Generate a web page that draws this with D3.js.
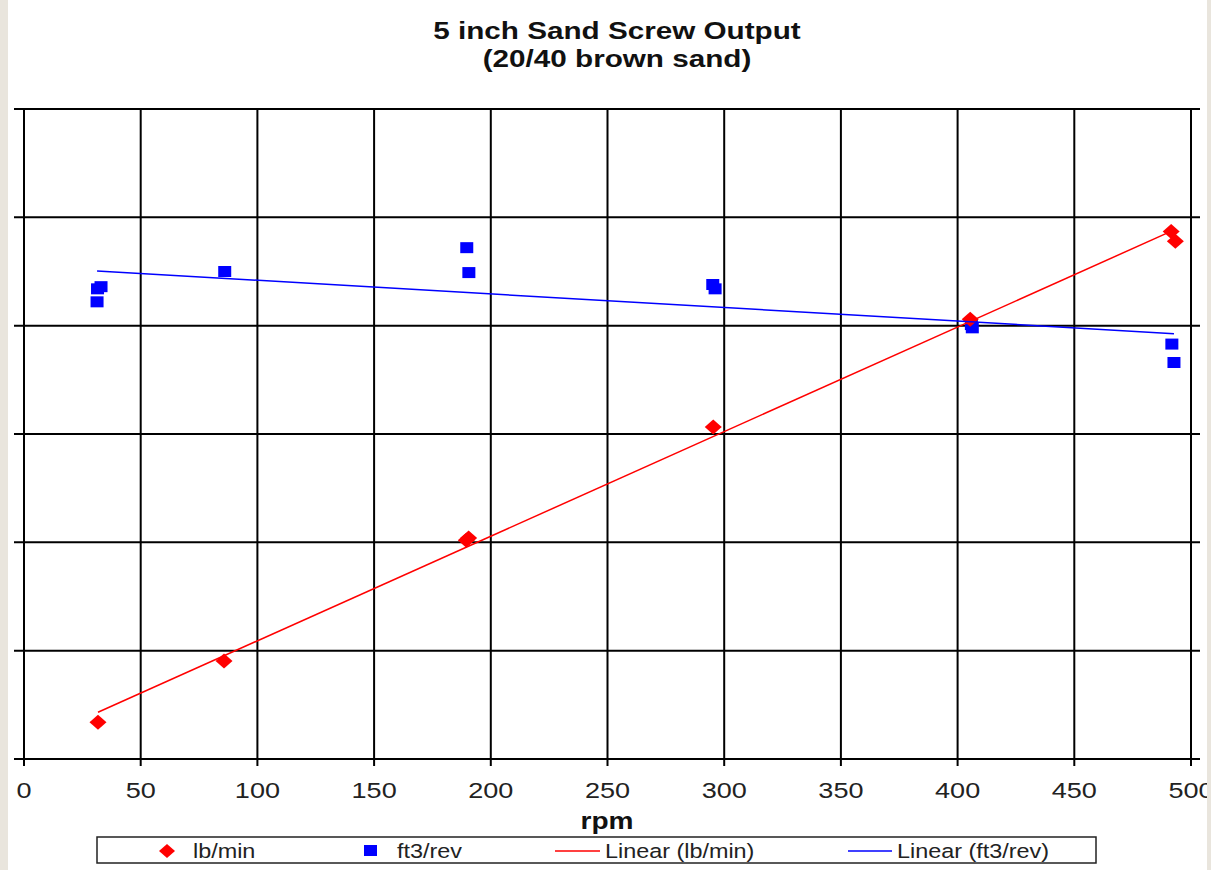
<!DOCTYPE html>
<html><head><meta charset="utf-8">
<script src="https://cdn.jsdelivr.net/npm/d3@7"></script>
<style>
html,body{margin:0;padding:0;background:#e9e5dd;}
svg{display:block;}
</style></head>
<body>
<script>
// Data (y in gridline units; the reference shows no y tick labels)
const lbRpm   = [31.7, 85.7, 189.5, 190.5, 295.3, 405.4, 491.5, 493.3];
const lbVal   = [0.34, 0.905, 2.02, 2.04, 3.065, 4.06, 4.87, 4.78];
const ftRpm   = [31.5, 33.0, 31.3, 86.0, 189.7, 190.6, 295.1, 296.1, 405.9, 406.3, 491.8, 492.7];
const ftVal   = [4.34, 4.36, 4.22, 4.50, 4.72, 4.49, 4.38, 4.34, 4.01, 3.98, 3.83, 3.66];
const xTicks  = [0, 50, 100, 150, 200, 250, 300, 350, 400, 450, 500];
const yTicks  = [0, 1, 2, 3, 4, 5, 6];
const legendLabels = ["lb/min", "ft3/rev", "Linear (lb/min)", "Linear (ft3/rev)"];
const titleLines = ["5 inch Sand Screw Output", "(20/40 brown sand)"];

const W = 1211, H = 870;
const svg = d3.select("body").append("svg").attr("width", W).attr("height", H);
svg.append("rect").attr("x", 8).attr("y", 0).attr("width", 1199).attr("height", H).attr("fill", "#fff");

const x = d3.scaleLinear().domain([0, 500]).range([24, 1191]);
const y = d3.scaleLinear().domain([0, 6]).range([759, 109]);
const font = "'Liberation Sans', Arial, sans-serif";

// horizontally stretched text helper
function txt(g, px, py, s, size, bold, anchor, sx, fill) {
  return g.append("text")
    .attr("transform", `translate(${px},${py}) scale(${sx},1)`)
    .attr("text-anchor", anchor).attr("font-family", font)
    .attr("font-size", size).attr("font-weight", bold ? "bold" : "normal")
    .attr("fill", fill || "#111").text(s);
}

// title
titleLines.forEach((t, i) => txt(svg, 617, 39 + i * 28, t, 23, true, "middle", 1.29, "#111"));

// horizontal grid (with tick stubs both sides)
svg.append("g").selectAll("line").data(yTicks).join("line")
  .attr("x1", 14).attr("x2", 1200).attr("y1", d => y(d)).attr("y2", d => y(d))
  .attr("stroke", "#000").attr("stroke-width", 2);
// vertical grid
svg.append("g").selectAll("line").data(xTicks).join("line")
  .attr("x1", d => x(d)).attr("x2", d => x(d)).attr("y1", y(6)).attr("y2", 766)
  .attr("stroke", "#000").attr("stroke-width", 2);

// x axis labels
const xl = svg.append("g");
xTicks.forEach(t => txt(xl, x(t), 798, String(t), 22, false, "middle", 1.23, "#222"));
txt(svg, 607, 829, "rpm", 24, true, "middle", 1.17, "#111");

// regression
function fit(xs, ys) {
  const mx = d3.mean(xs), my = d3.mean(ys);
  let sxy = 0, sxx = 0;
  xs.forEach((v, i) => { sxy += (v - mx) * (ys[i] - my); sxx += (v - mx) * (v - mx); });
  const b = sxy / sxx, a = my - b * mx;
  const x0 = d3.min(xs), x1 = d3.max(xs);
  return [[x0, a + b * x0], [x1, a + b * x1]];
}
const line = d3.line().x(d => x(d[0])).y(d => y(d[1]));

// markers
const sq = svg.append("g");
ftRpm.forEach((r, i) => sq.append("rect")
  .attr("x", x(r) - 6.5).attr("y", y(ftVal[i]) - 5.5).attr("width", 13).attr("height", 11).attr("fill", "#0000ff"));
const dm = svg.append("g");
lbRpm.forEach((r, i) => dm.append("path")
  .attr("d", `M${x(r)},${y(lbVal[i]) - 7.5}L${x(r) + 8.5},${y(lbVal[i])}L${x(r)},${y(lbVal[i]) + 7.5}L${x(r) - 8.5},${y(lbVal[i])}Z`)
  .attr("fill", "#ff0000"));

svg.append("path").attr("d", line(fit(lbRpm, lbVal))).attr("stroke", "#ff0000").attr("stroke-width", 1.5).attr("fill", "none");
svg.append("path").attr("d", line(fit(ftRpm, ftVal))).attr("stroke", "#0000ff").attr("stroke-width", 1.5).attr("fill", "none");

// legend
const lg = svg.append("g");
lg.append("rect").attr("x", 97).attr("y", 837).attr("width", 999).attr("height", 26)
  .attr("fill", "#fff").attr("stroke", "#222").attr("stroke-width", 1.5);
const ly = 851;
lg.append("path").attr("d", `M167,${ly - 7}L175,${ly}L167,${ly + 7}L159,${ly}Z`).attr("fill", "#ff0000");
lg.append("rect").attr("x", 364).attr("y", ly - 6).attr("width", 13).attr("height", 11).attr("fill", "#0000ff");
lg.append("line").attr("x1", 555).attr("x2", 600).attr("y1", ly).attr("y2", ly).attr("stroke", "#ff0000").attr("stroke-width", 1.5);
lg.append("line").attr("x1", 848).attr("x2", 892).attr("y1", ly).attr("y2", ly).attr("stroke", "#0000ff").attr("stroke-width", 1.5);
const lx = [193, 397, 605, 897];
legendLabels.forEach((s, i) => txt(lg, lx[i], 858, s, 19.5, false, "start", 1.2, "#222"));

// right beige strip clipping (the reference cuts the "500" label here)
svg.append("rect").attr("x", 1207).attr("y", 0).attr("width", 4).attr("height", H).attr("fill", "#e9e5dd");
</script>
</body></html>
